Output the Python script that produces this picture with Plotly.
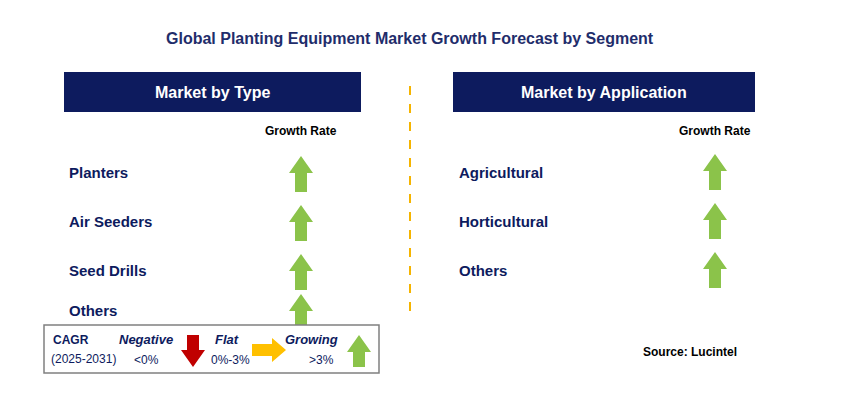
import plotly.graph_objects as go

title = "Global Planting Equipment Market Growth Forecast by Segment"
type_cats = ["Planters", "Air Seeders", "Seed Drills", "Others"]
type_growth = ["Growing", "Growing", "Growing", "Growing"]
app_cats = ["Agricultural", "Horticultural", "Others"]
app_growth = ["Growing", "Growing", "Growing"]
legend_labels = ["Negative", "Flat", "Growing"]
legend_ranges = ["<0%", "0%-3%", ">3%"]

NAVY = "#0D1B5E"
GREEN = "#8BC34A"
RED = "#C00000"
YEL = "#FFC000"
fig = go.Figure()
shapes, ann = [], []

def up(cx, cy, h=36, hw=24, sw=12, hh=17, color=GREEN):
    t, b = cy - h/2, cy + h/2
    p = (f"M{cx},{t} L{cx+hw/2},{t+hh} L{cx+sw/2},{t+hh} L{cx+sw/2},{b} "
         f"L{cx-sw/2},{b} L{cx-sw/2},{t+hh} L{cx-hw/2},{t+hh} Z")
    shapes.append(dict(type="path", path=p, fillcolor=color, line=dict(width=0)))

def down(cx, cy, h=36, hw=24, sw=12, hh=17, color=RED):
    t, b = cy - h/2, cy + h/2
    p = (f"M{cx},{b} L{cx+hw/2},{b-hh} L{cx+sw/2},{b-hh} L{cx+sw/2},{t} "
         f"L{cx-sw/2},{t} L{cx-sw/2},{b-hh} L{cx-hw/2},{b-hh} Z")
    shapes.append(dict(type="path", path=p, fillcolor=color, line=dict(width=0)))

def right(cx, cy, w=34, hh=24, sh=12, hw=14, color=YEL):
    l, r = cx - w/2, cx + w/2
    p = (f"M{r},{cy} L{r-hw},{cy-hh/2} L{r-hw},{cy-sh/2} L{l},{cy-sh/2} "
         f"L{l},{cy+sh/2} L{r-hw},{cy+sh/2} L{r-hw},{cy+hh/2} Z")
    shapes.append(dict(type="path", path=p, fillcolor=color, line=dict(width=0)))

def txt(x, y, s, size=14, color=NAVY, bold=False, italic=False, xa="left", font="Arial"):
    if bold: s = f"<b>{s}</b>"
    if italic: s = f"<i>{s}</i>"
    ann.append(dict(x=x, y=y, text=s, showarrow=False, xanchor=xa, yanchor="middle",
                    font=dict(size=size, color=color, family=font)))

txt(410, 38, title, 16, "#1F2D6B", True, xa="center")
for x0, x1, lab in [(64, 361, "Market by Type"), (453, 755, "Market by Application")]:
    shapes.append(dict(type="rect", x0=x0, x1=x1, y0=72, y1=112, fillcolor=NAVY, line=dict(width=0)))
    txt((x0+x1)/2, 92, lab, 16, "white", True, xa="center")
shapes.append(dict(type="line", x0=410, x1=410, y0=86, y1=320, line=dict(color="#F5B400", width=2, dash="dash")))

txt(301, 131, "Growth Rate", 12, "black", True, xa="center")
txt(715, 131, "Growth Rate", 12, "black", True, xa="center")
ys = [172, 221, 270, 310]
for c, g, y in zip(type_cats, type_growth, ys):
    txt(67, y, c, 15, NAVY, True)
    up(301, y + 2)
for c, g, y in zip(app_cats, app_growth, ys):
    txt(457, y, c, 15, NAVY, True)
    up(715, y)

shapes.append(dict(type="rect", x0=44, x1=379, y0=325, y1=373, line=dict(color="#808080", width=1.5), fillcolor="white"))
txt(51, 340, "CAGR", 12, NAVY, True)
txt(49, 359, "(2025-2031)", 12, NAVY)
txt(146, 339, legend_labels[0], 13, NAVY, True, True, "center")
txt(146, 360, legend_ranges[0], 12, NAVY, xa="center")
down(193, 351, h=32)
txt(227, 339, legend_labels[1], 13, NAVY, True, True, "center")
txt(230, 360, legend_ranges[1], 12, NAVY, xa="center")
right(269, 350)
txt(311, 339, legend_labels[2], 13, NAVY, True, True, "center")
txt(321, 360, legend_ranges[2], 12, NAVY, xa="center")
up(359, 351, h=32)

txt(690, 352, "Source: Lucintel", 12, "black", True, xa="center")

# compensate for the 8px page margin of the rendered page
fig.update_layout(width=861, height=420, margin=dict(l=0, r=0, t=0, b=0),
                  paper_bgcolor="white", plot_bgcolor="white", shapes=shapes, annotations=ann,
                  xaxis=dict(range=[8, 869], visible=False, fixedrange=True),
                  yaxis=dict(range=[428, 8], visible=False, fixedrange=True), showlegend=False)
fig.write_html("out.html", config={"displayModeBar": False})
